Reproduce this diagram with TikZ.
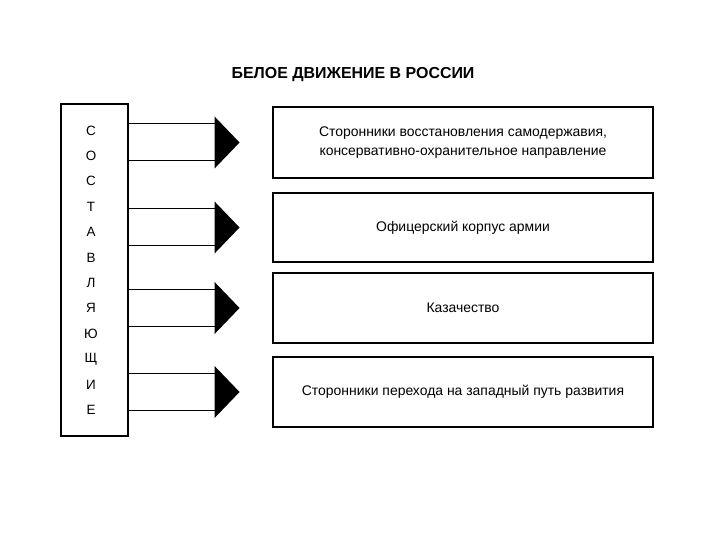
\documentclass[tikz,border=0pt]{standalone}
\usepackage{fontspec}
\setmainfont{Liberation Sans}
\begin{document}
\begin{tikzpicture}[x=1bp,y=-1bp,font=\fontsize{14}{19}\selectfont,
  box/.style={draw,line width=1.1bp,minimum width=380bp,align=center}]
\useasboundingbox (0,0) rectangle (720,540);
\node[font=\bfseries\fontsize{16}{18}\selectfont] (title) at (353,75) {БЕЛОЕ ДВИЖЕНИЕ В РОССИИ};
% left box with vertical word
\node[draw,line width=1.1bp,minimum width=67bp,minimum height=332bp] (comp) at (94.5,270) {};
\foreach \l [count=\i] in {С,О,С,Т,А,В,Л,Я,Ю,Щ,И,Е}
  \node[font=\fontsize{13.5}{15}\selectfont] (l\i) at (91,105+25.4*\i) {\l};
% right boxes
\node[box,minimum height=71bp] (b1) at (463,142.5) {Сторонники восстановления самодержавия,\\консервативно-охранительное направление};
\node[box,minimum height=69bp] (b2) at (463,227.5) {Офицерский корпус армии};
\node[box,minimum height=70bp] (b3) at (463,308) {Казачество};
\node[box,minimum height=70bp] (b4) at (463,392) {Сторонники перехода на западный путь развития};
% block arrows
\foreach \i in {1,...,4} {
  \coordinate (s\i) at (comp.east |- b\i);
  \draw[line width=1bp] (s\i) ++(0,-18.5) -- ++(87,0);
  \draw[line width=1bp] (s\i) ++(0,18.5) -- ++(87,0);
  \fill (s\i) ++(86,-26) -- ++(25,26) -- ++(-25,26) -- cycle;
}
\end{tikzpicture}
\end{document}
